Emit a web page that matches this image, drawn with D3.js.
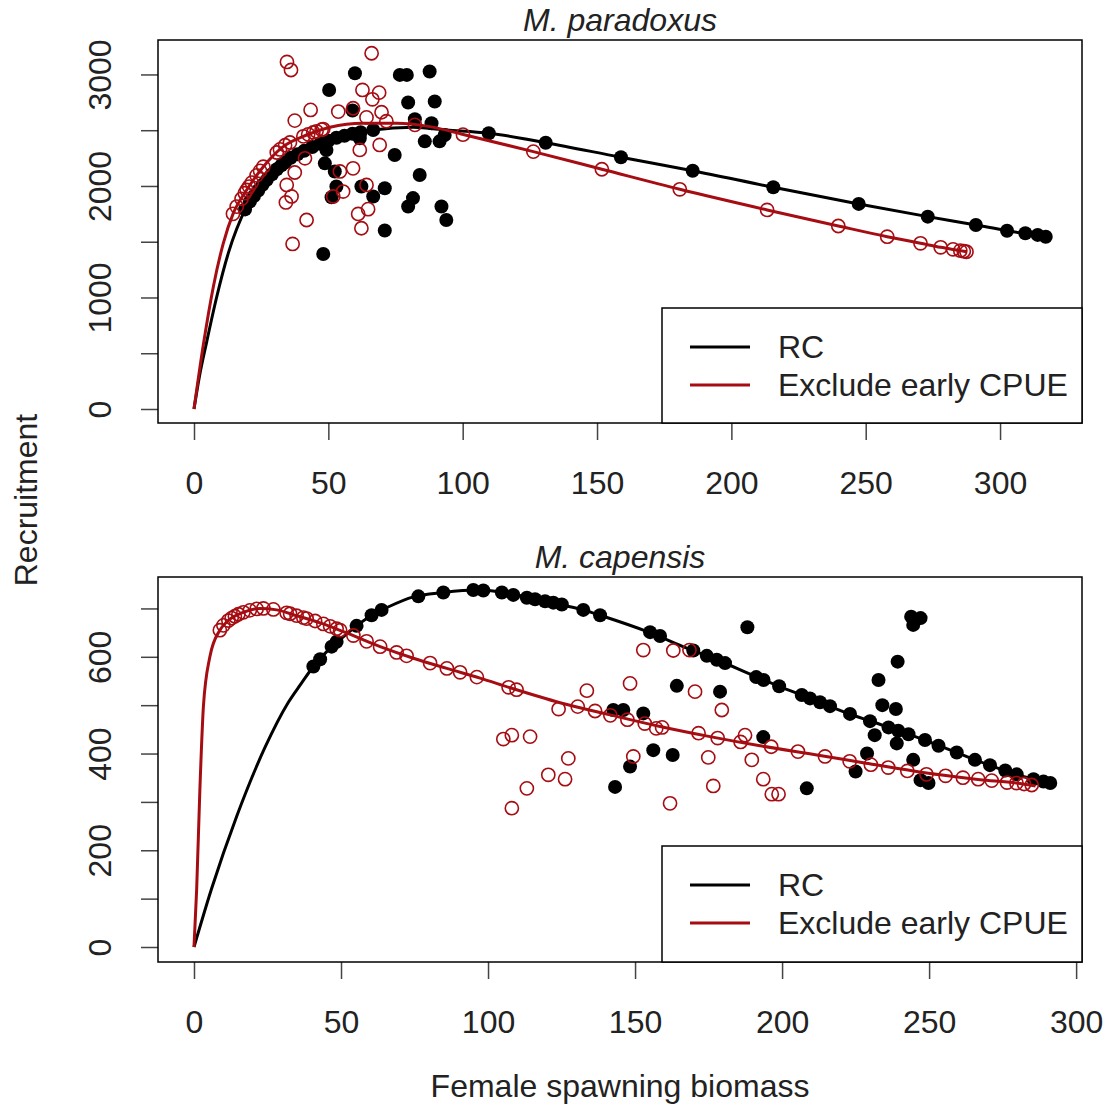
<!DOCTYPE html>
<html>
<head>
<meta charset="utf-8">
<script src="https://cdn.jsdelivr.net/npm/d3@7"></script>
<style>
  body { margin: 0; background: #fff; }
  svg text { font-family: "Liberation Sans", Arial, sans-serif; }
</style>
</head>
<body>
<svg id="chart" width="1112" height="1111"></svg>
<script>
// ---------------- data: M. paradoxus (top) ----------------
const paraTitle = "M. paradoxus";
const paraXTicks = [0, 50, 100, 150, 200, 250, 300];
const paraYTicks = [0, 500, 1000, 1500, 2000, 2500, 3000];
const paraYLabels = [0, 1000, 2000, 3000];

// [biomass, recruitment]
const paraRcCurve = [[0,0],[2,290],[4.7,600],[8.4,1000],[12.8,1400],[19.6,1815],[27,2054],[35.7,2248],[44.4,2353],
  [54.3,2442],[66.7,2502],[81.6,2526],[94,2502],[109.7,2473],[130.9,2388],[158.9,2257],[185.6,2137],[215.6,1988],
  [247.4,1839],[273.1,1725],[291,1650],[302.6,1599],[317,1545]];
const paraExCurve = [[0,0],[3.5,580],[7.2,1097],[10.9,1486],[14.6,1754],[19.6,1964],[25.8,2173],[33.2,2353],[41.9,2457],
  [50.6,2526],[63,2562],[75.4,2562],[87.8,2532],[100.2,2462],[126.3,2308],[151.8,2150],[180.8,1970],[213.3,1785],
  [239.8,1641],[258,1545],[270.4,1486],[277.9,1450],[285.2,1420],[287.5,1410]];

const paraRcPoints = [[19,1790],[20.8,1860],[22.3,1910],[23.9,1960],[25.5,2010],[27.1,2055],[29,2105],[30.8,2150],
  [32.5,2185],[33.9,2210],[36,2252],[38.5,2285],[41,2315],[44,2350],[47,2378],[50,2405],[53,2432],[56,2450],[59,2468],
  [62,2482],[66.7,2502],[109.7,2473],[130.9,2388],[158.9,2257],[185.6,2137],[215.6,1988],[247.4,1839],[273.1,1725],
  [291,1650],[302.6,1599],[309.4,1576],[314,1561],[317,1545],
  [59.9,3011],[76.6,2996],[79.2,2996],[87.7,3027],[50.3,2861],[79.7,2748],[89.6,2757],[59,2677],[82.2,2598],[88.4,2562],
  [85.9,2400],[91.4,2400],[93.3,2457],[61.7,2428],[74.7,2278],[49.3,2323],[48.7,2203],[52.4,2130],[84,2099],[53,1995],
  [62.3,1995],[71,1980],[66.7,1906],[51.2,1899],[81.5,1891],[79.7,1816],[92.1,1816],[93.9,1695],[71,1600],[48.1,1390]];

const paraExPoints = [[14.5,1750],[15.9,1815],[17.7,1885],[18.9,1935],[19.6,1964],[20.5,1995],[21.5,2030],[23.3,2095],
  [24.6,2135],[25.8,2173],[30.8,2300],[32,2328],[33.9,2365],[35.7,2390],[40.7,2445],[42.5,2463],[44.4,2480],[45.6,2490],
  [47.5,2505],[48.1,2510],[82.2,2548],[100.1,2460],[126.3,2308],[151.8,2150],[180.8,1970],[213.3,1785],[239.8,1641],
  [258,1545],[270.4,1486],[277.9,1450],[282.5,1432],[285.2,1420],[286.5,1415],[287.5,1410],
  [34.6,3112],[36.1,3040],[66.1,3190],[62.7,2861],[68.9,2837],[66.4,2777],[43.4,2682],[53.7,2667],[59.2,2697],[69.8,2661],
  [37.5,2586],[64.2,2615],[71.6,2581],[69.1,2368],[61.7,2323],[41.3,2248],[59.2,2158],[37.5,2121],[54.3,2130],[34.5,2009],
  [64.2,2009],[55.5,1950],[36.3,1906],[51.8,1906],[34.2,1852],[64.8,1792],[61.1,1749],[41.9,1695],[62.3,1621],[36.7,1480]];

// ---------------- data: M. capensis (bottom) ----------------
const capTitle = "M. capensis";
const capXTicks = [0, 50, 100, 150, 200, 250, 300];
const capYTicks = [0, 100, 200, 300, 400, 500, 600, 700];
const capYLabels = [0, 200, 400, 600];

const capRcCurve = [[0,0],[6,121],[14.5,270],[24.1,412],[32,505],[36.5,545],[40.6,580],[46.3,618],[51.9,647],[55.3,664],
  [59.9,684],[66,703],[74.6,724],[84.8,733],[96.2,738],[103,735],[114.3,722],[124.5,708],[132.4,697],[138.1,686],[155.1,650],
  [167.6,618],[176.6,597],[191.1,559],[199.3,538],[206.7,521],[222.4,483],[235.4,456],[248.4,428],[260.2,400],
  [271.9,373],[282.3,352],[291.5,339]];
const capExCurve = [[0,0],[0.9,118],[2,325],[3.2,497],[5.4,600],[8.8,655],[11.1,672],[16.8,692],[22.4,700],[28.1,697],
  [34.9,685],[42.9,670],[50.8,652],[63.3,621],[74.6,597],[86,576],[97.3,556],[107.5,536],[124.5,505],[141.5,480],
  [158.5,456],[175.5,435],[192.5,416],[212.9,396],[227.6,381],[244.7,364],[253.7,356],[267.3,346],[279.7,339],[286.2,333]];

const capRcPoints = [[40.6,580],[42.9,595],[46.8,621],[48.5,631],[55.3,664],[60.4,686],[63.8,697],[76.3,725],[84.8,733],
  [95,738],[98.4,737],[104.7,733],[108.6,728],[113.2,722],[116,719],[119.4,715],[122.2,712],[125.1,708],[132.4,697],
  [138.1,686],[155.1,651],[158.5,643],[169.8,613],[174.4,602],[177.8,594],[180.6,587],[191.2,558],[193.7,552],[199,539],
  [206.7,521],[209.5,514],[212.9,506],[216.3,498],[223.1,482],[229.9,467],[236.2,454],[239.5,447],[243,440],[248.6,428],
  [253.2,416],[259.4,402],[265.6,387],[270.7,376],[275.9,365],[279.8,357],[285.5,347],[288.9,342],[291.2,339],
  [142.6,490],[146,490],[152.8,483],[156.2,407],[162.8,397],[148.3,373],[143.2,331],[164.2,540],[178.9,528],[188.2,661],
  [193.6,434],[208.4,328],[225,363],[228.9,400],[231.5,438],[232.8,552],[234.1,500],[238.7,492],[239.3,590],[243.9,683],
  [247.1,680],[244.6,666],[244.6,387],[247.1,345],[249.8,339],[239,421]];

const capExPoints = [[8.8,655],[10,665],[11.7,675],[12.8,680],[13.9,684],[15.1,688],[16.8,692],[19,696],[21.3,699],
  [23.6,700],[27,698],[31.5,691],[32.7,689],[34.9,685],[37.2,681],[38.3,679],[41.2,674],[44,668],[46.3,663],[48.5,658],
  [49.7,655],[54.2,644],[58.7,632],[63.3,621],[68.9,609],[72.3,602],[80.3,587],[86,576],[90.5,568],[96.2,558],[107,537],
  [109.7,532],[124,492],[130.5,497],[136.4,488],[141.6,479],[147.4,470],[153.3,462],[157.2,452],[159.2,454],[171.6,442],
  [178.1,432],[185.9,424],[196.3,414],[205.4,404],[214.6,394],[223,384],[230.2,377],[236.1,371],[242.6,364],[249.1,357],
  [255.6,354],[261.5,350],[266.7,347],[271.3,344],[276.5,340],[279.7,339],[282.3,337],[284.9,335],
  [152.8,614],[163,613],[168.5,614],[148.3,545],[133.6,530],[170.4,528],[179.5,490],[105.2,430],[108.1,438],[114.3,435],
  [127.3,390],[149.4,394],[120.5,356],[126.2,347],[113.2,328],[108.1,287],[161.9,297],[174.9,392],[176.6,333],
  [189.7,387],[193.6,347],[196.5,316],[198.8,316],[187.4,438]];

const legendLabels = ["RC", "Exclude early CPUE"];

// ---------------- drawing ----------------
const svg = d3.select("#chart");
const FONT = 32;
const RED = "#a50d12";

function drawPanel(p) {
  const x = d3.scaleLinear().domain(p.xDomain).range([158, 1082]);
  const y = d3.scaleLinear().domain(p.yDomain).range([p.bottom, p.top]);
  const g = svg.append("g");

  const line = d3.line()
    .x(d => x(d[0]))
    .y(d => y(d[1]))
    .curve(d3.curveMonotoneX);

  // black model
  g.append("path").datum(p.rcCurve)
    .attr("d", line).attr("fill", "none").attr("stroke", "#000").attr("stroke-width", 3);
  g.selectAll(".rc").data(p.rcPoints).enter().append("circle")
    .attr("cx", d => x(d[0])).attr("cy", d => y(d[1])).attr("r", 7).attr("fill", "#000");

  // red model
  g.append("path").datum(p.exCurve)
    .attr("d", line).attr("fill", "none").attr("stroke", RED).attr("stroke-width", 3);
  g.selectAll(".ex").data(p.exPoints).enter().append("circle")
    .attr("cx", d => x(d[0])).attr("cy", d => y(d[1])).attr("r", 6.6)
    .attr("fill", "none").attr("stroke", RED).attr("stroke-width", 1.6);

  // axes
  const xAxis = g.append("g")
    .attr("transform", `translate(0,${p.bottom})`)
    .call(d3.axisBottom(x).tickValues(p.xTicks).tickSize(17).tickSizeOuter(0));
  xAxis.select(".domain").remove();
  xAxis.selectAll("line").attr("stroke", "#444").attr("stroke-width", 1.5);
  xAxis.selectAll("text").attr("y", 71).attr("dy", null)
    .attr("font-size", FONT).attr("fill", "#222");

  const yAxis = g.append("g")
    .attr("transform", "translate(158,0)")
    .call(d3.axisLeft(y).tickValues(p.yTicks).tickSize(17).tickSizeOuter(0)
      .tickFormat(d => p.yLabels.includes(d) ? d : ""));
  yAxis.select(".domain").remove();
  yAxis.selectAll("line").attr("stroke", "#444").attr("stroke-width", 1.5);
  yAxis.selectAll("text")
    .attr("x", null).attr("dy", null)
    .attr("transform", "translate(-47,0) rotate(-90)")
    .attr("text-anchor", "middle")
    .attr("font-size", FONT).attr("fill", "#222");

  // box
  g.append("rect")
    .attr("x", 158).attr("y", p.top).attr("width", 1082 - 158).attr("height", p.bottom - p.top)
    .attr("fill", "none").attr("stroke", "#000").attr("stroke-width", 1.5);

  // title
  g.append("text").attr("x", 620).attr("y", p.titleY)
    .attr("text-anchor", "middle").attr("font-size", FONT).attr("font-style", "italic")
    .attr("fill", "#222").text(p.title);

  // legend
  const lg = g.append("g").attr("transform", `translate(662,${p.legendTop})`);
  lg.append("rect").attr("width", 420).attr("height", p.bottom - p.legendTop)
    .attr("fill", "#fff").attr("stroke", "#000").attr("stroke-width", 1.5);
  const colors = ["#000", RED];
  legendLabels.forEach((lab, i) => {
    lg.append("line").attr("x1", 28).attr("x2", 88)
      .attr("y1", 39 + i * 38).attr("y2", 39 + i * 38)
      .attr("stroke", colors[i]).attr("stroke-width", 3);
    lg.append("text").attr("x", 116).attr("y", 50 + i * 38)
      .attr("font-size", FONT).attr("fill", "#222").text(lab);
  });
}

drawPanel({
  title: paraTitle, titleY: 31,
  top: 40, bottom: 423, legendTop: 308,
  xDomain: [-13.4, 330.5], yDomain: [-125.6, 3309],
  xTicks: paraXTicks, yTicks: paraYTicks, yLabels: paraYLabels,
  rcCurve: paraRcCurve, exCurve: paraExCurve, rcPoints: paraRcPoints, exPoints: paraExPoints
});

drawPanel({
  title: capTitle, titleY: 568,
  top: 577, bottom: 962, legendTop: 846,
  xDomain: [-12.24, 302], yDomain: [-31, 765],
  xTicks: capXTicks, yTicks: capYTicks, yLabels: capYLabels,
  rcCurve: capRcCurve, exCurve: capExCurve, rcPoints: capRcPoints, exPoints: capExPoints
});

// shared axis titles
svg.append("text")
  .attr("transform", "translate(37,500) rotate(-90)")
  .attr("text-anchor", "middle").attr("font-size", FONT).attr("fill", "#222")
  .text("Recruitment");
svg.append("text")
  .attr("x", 620).attr("y", 1097)
  .attr("text-anchor", "middle").attr("font-size", FONT).attr("fill", "#222")
  .text("Female spawning biomass");
</script>
</body>
</html>
